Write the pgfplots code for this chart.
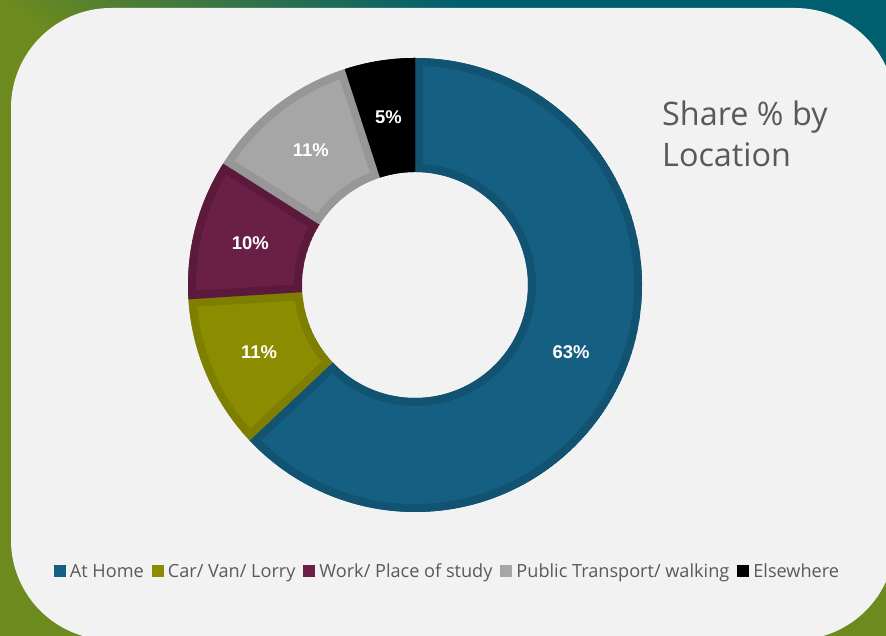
\documentclass[border=0pt]{standalone}
\usepackage{pgfplots}
\pgfplotsset{compat=1.18}
\usepackage{pgfplotstable}
\usepackage{fontspec}
\setmainfont{Open Sans}
\newfontfamily\lblfont{Liberation Sans}

\definecolor{bgolive}{HTML}{6C8A1E}
\definecolor{bgteal}{HTML}{005F6E}
\definecolor{panel}{HTML}{F2F2F2}
\definecolor{txt}{HTML}{595959}
\definecolor{sf0}{HTML}{156082}
\definecolor{se0}{HTML}{125372}
\definecolor{sf1}{HTML}{8C8C00}
\definecolor{se1}{HTML}{7E7E00}
\definecolor{sf2}{HTML}{6A1F45}
\definecolor{se2}{HTML}{5B1A3B}
\definecolor{sf3}{HTML}{A6A6A6}
\definecolor{se3}{HTML}{979797}
\definecolor{sf4}{HTML}{000000}
\definecolor{se4}{HTML}{000000}

% share % by location: At Home, Car/Van/Lorry, Work/Place of study, Public Transport/walking, Elsewhere
\pgfplotstableread{
idx value
0 63
1 11
2 10
3 11
4 5
}\donutdata

\newcommand\slicepath[1]{(axis cs:{415+227*cos(\csname sa#1\endcsname)},{351+227*sin(\csname sa#1\endcsname)}) arc[start angle=\csname sa#1\endcsname, end angle=\csname sb#1\endcsname, radius=227bp] -- (axis cs:{415+113*cos(\csname sb#1\endcsname)},{351+113*sin(\csname sb#1\endcsname)}) arc[start angle=\csname sb#1\endcsname, end angle=\csname sa#1\endcsname, radius=113bp] -- cycle}

\newcommand\lsq[1]{\textcolor{#1}{\rule{12bp}{12bp}}\hspace{4bp}}

\begin{document}
\begin{tikzpicture}[x=1bp,y=1bp]
\useasboundingbox (0,0) rectangle (886,636);
% compute slice angles from the table
\xdef\acc{90}%
\pgfplotsforeachungrouped \i in {0,...,4}{%
  \pgfplotstablegetelem{\i}{value}\of\donutdata
  \pgfmathsetmacro\dA{\acc}%
  \pgfmathsetmacro\dB{\acc-3.6*\pgfplotsretval}%
  \pgfmathsetmacro\dM{(\dA+\dB)/2}%
  \expandafter\xdef\csname sa\i\endcsname{\dA}%
  \expandafter\xdef\csname sb\i\endcsname{\dB}%
  \expandafter\xdef\csname sm\i\endcsname{\dM}%
  \expandafter\xdef\csname sv\i\endcsname{\pgfplotsretval}%
  \xdef\acc{\dB}%
}%
% background gradient
\begin{scope}
\clip (0,0) rectangle (886,636);
\begin{scope}[transform canvas={shift={(0,636)},rotate=56.31}]
\fill[bgolive] (-3000,-3000) rectangle (3,3000);
\fill[bgteal] (247,-3000) rectangle (3000,3000);
\shade[left color=bgolive,right color=bgteal] (0,-3000) rectangle (250,3000);
\end{scope}
\end{scope}
% panel
\fill[panel, rounded corners=100bp] (11,-4) rectangle (895,628);

\begin{axis}[at={(0,0)}, anchor=south west, scale only axis,
  width=886bp, height=636bp, xmin=0, xmax=886, ymin=0, ymax=636,
  hide axis, clip=false]
\pgfplotsinvokeforeach{0,...,4}{%
  \pgfplotsextra{%
    \begin{scope}
    \clip \slicepath{#1};
    \fill[sf#1] \slicepath{#1};
    \draw[se#1, line width=16bp] \slicepath{#1};
    \end{scope}
  }%
}
\pgfplotsinvokeforeach{0,...,4}{%
  \pgfplotsextra{%
    \node[text=white, font=\lblfont\bfseries\fontsize{18.5}{21}\selectfont]
      at (axis cs:{415+170*cos(\csname sm#1\endcsname)},{351+170*sin(\csname sm#1\endcsname)})
      {\csname sv#1\endcsname\%};
  }%
}
\end{axis}

% title
\node[anchor=base west, inner sep=0pt, text=txt, font=\fontsize{32.5}{40}\selectfont] at (662,510) {Share \% by};
\node[anchor=base west, inner sep=0pt, text=txt, font=\fontsize{32.5}{40}\selectfont] at (662,469) {Location};
% legend
\node[anchor=base, inner sep=0pt, text=txt, font=\fontsize{18.2}{21}\selectfont] at (446.5,58.5)
{\lsq{sf0}At Home\hspace{8bp}\lsq{sf1}Car/ Van/ Lorry\hspace{8bp}\lsq{sf2}Work/ Place of study\hspace{8bp}\lsq{sf3}Public Transport/ walking\hspace{8bp}\lsq{sf4}Elsewhere};
\end{tikzpicture}
\end{document}
